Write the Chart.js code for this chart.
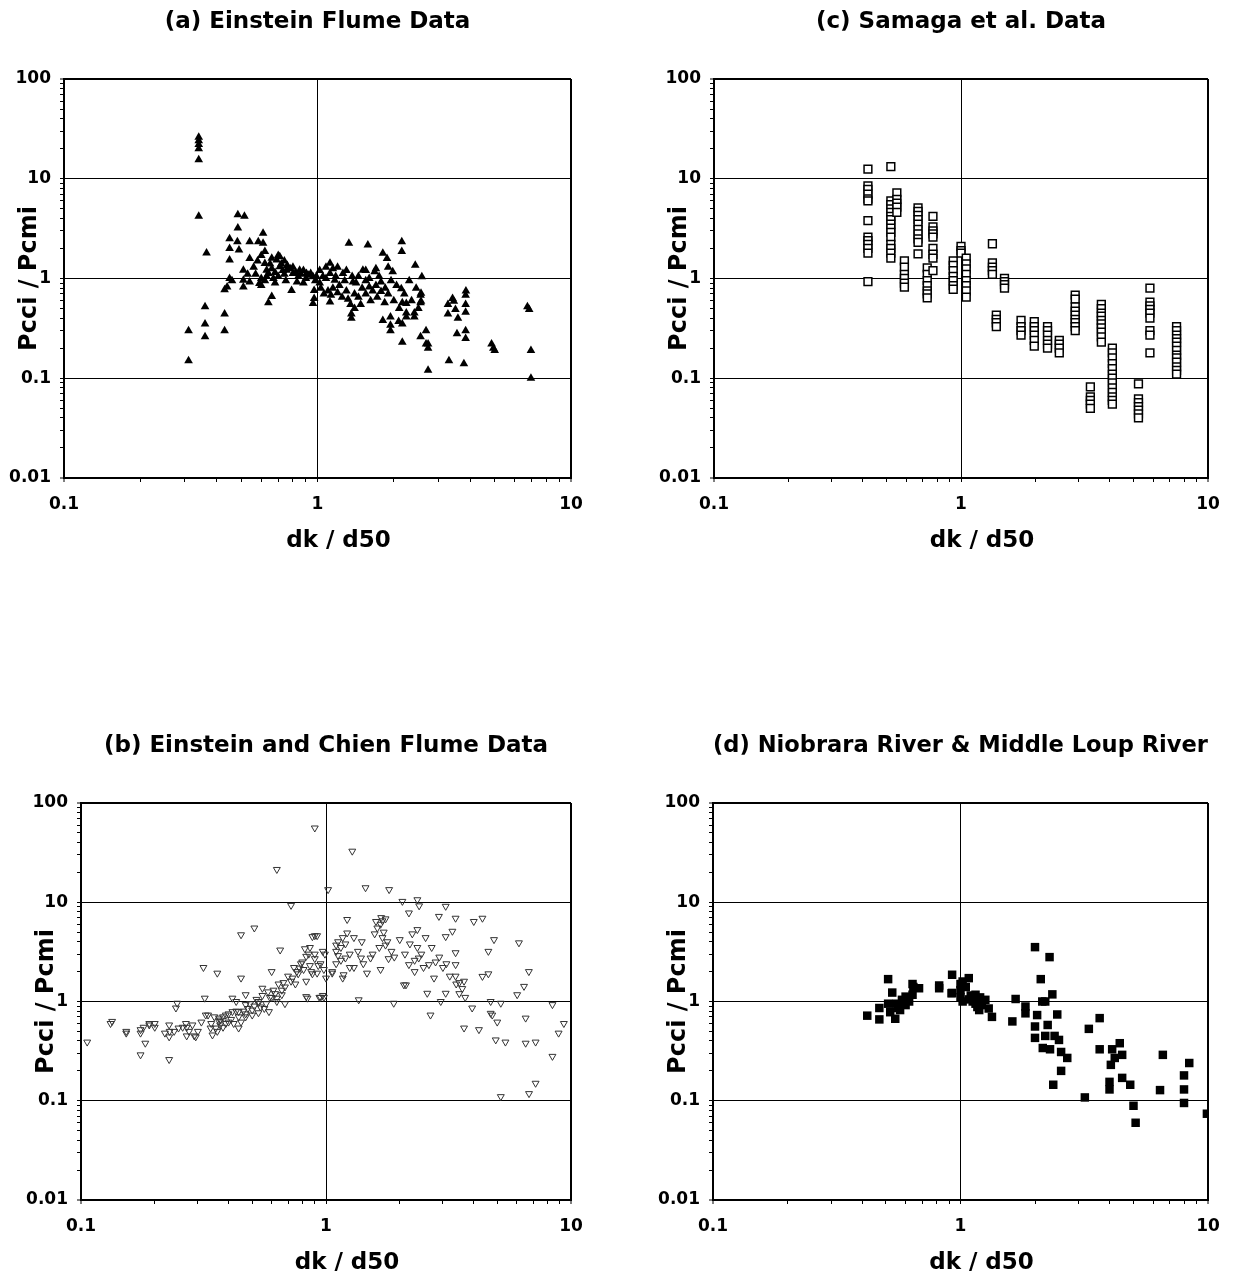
<!DOCTYPE html>
<html>
<head>
<meta charset="utf-8">
<script src="https://cdn.jsdelivr.net/npm/chart.js@4.4.1/dist/chart.umd.min.js"></script>
<style>
  body { margin: 0; background: #fff; width: 1235px; height: 1278px; position: relative; overflow: hidden; }
  .panel { position: absolute; }
  canvas { display: block; }
</style>
</head>
<body>
<div class="panel" id="boxA"><canvas id="chartA"></canvas></div>
<div class="panel" id="boxC"><canvas id="chartC"></canvas></div>
<div class="panel" id="boxB"><canvas id="chartB"></canvas></div>
<div class="panel" id="boxD"><canvas id="chartD"></canvas></div>
<script>
// axes communs : log-log, 0.1..10 en x et 0.01..100 en y
var xTickLabels = ['0.1', '1', '10'];
var yTickLabels = ['0.01', '0.1', '1', '10', '100'];
var minorSteps = [1, 2, 3, 4, 5, 6, 7, 8, 9];

// (a) Einstein Flume Data
var einsteinX = [
  0.31, 0.31, 0.34, 0.34, 0.34, 0.34, 0.34, 0.34, 0.365, 0.36,
  0.36, 0.36, 0.43, 0.43, 0.43, 0.44, 0.45, 0.45, 0.45, 0.45,
  0.46, 0.485, 0.515, 0.485, 0.483, 0.49, 0.51, 0.51, 0.51, 0.54,
  0.54, 0.54, 0.584, 0.59, 0.61, 0.61, 0.62, 0.62, 0.63, 0.64,
  0.64, 0.66, 0.67, 0.69, 0.71, 0.71, 0.755, 0.80, 0.79, 0.85,
  0.905, 0.96, 0.97, 0.97, 0.96, 0.56, 0.58, 0.6, 0.6, 0.65,
  0.66, 0.68, 0.7, 0.72, 0.73, 0.74, 0.76, 0.78, 0.8, 0.82,
  0.84, 0.86, 0.88, 0.9, 0.92, 0.94, 0.98, 0.99, 0.62, 0.57,
  0.53, 0.68, 0.75, 0.7, 0.66, 0.74, 0.6, 0.88, 0.63, 0.83,
  1.02, 1.05, 1.08, 1.12, 1.12, 1.17, 1.13, 1.26, 1.33, 1.38,
  1.36, 1.36, 1.48, 1.51, 1.58, 1.6, 1.68, 1.78, 1.78, 1.81,
  1.84, 1.81, 1.88, 1.94, 1.94, 1.94, 1.98, 2.09, 2.14, 2.15,
  2.15, 2.16, 2.16, 2.16, 2.24, 2.24, 2.24, 2.41, 2.41, 2.43,
  2.56, 2.56, 2.58, 2.55, 2.55, 2.55, 2.68, 2.68, 2.73, 2.73,
  2.73, 3.27, 3.27, 3.3, 3.41, 3.45, 3.5, 3.58, 3.55, 3.78,
  3.84, 3.85, 3.84, 3.84, 3.84, 3.84, 4.86, 4.94, 5.0, 6.84,
  6.73, 6.95, 6.95,
  1.03, 1.06, 1.1, 1.15, 1.18, 1.2, 1.22, 1.25, 1.28, 1.3,
  1.32, 1.35, 1.4, 1.42, 1.45, 1.45, 1.5, 1.55, 1.55, 1.6,
  1.62, 1.65, 1.7, 1.72, 1.75, 1.85, 1.9, 1.95, 2.0, 2.05,
  2.1, 2.2, 2.3, 2.35, 2.45, 2.5, 1.12, 1.4, 1.15, 1.2,
  1.3, 1.37, 1.55, 1.7, 1.9, 1.02, 1.08
];
var einsteinY = [
  0.30, 0.15, 26, 24, 22, 20, 15.5, 4.2, 1.8, 0.52,
  0.35, 0.26, 0.44, 0.30, 0.77, 0.82, 2.5, 2.0, 1.53, 1.0,
  0.95, 4.35, 4.2, 3.2, 2.34, 1.93, 1.21, 0.96, 0.82, 2.34,
  1.59, 0.92, 2.34, 0.89, 2.84, 2.25, 1.86, 1.41, 1.21, 1.12,
  0.57, 0.66, 1.0, 1.53, 1.65, 1.31, 1.21, 1.12, 0.76, 1.21,
  1.12, 1.04, 0.76, 0.63, 0.56, 1.3, 1.5, 1.0, 1.7, 1.4,
  1.25, 1.15, 1.05, 1.4, 1.2, 1.1, 1.35, 1.25, 1.3, 1.15,
  1.05, 1.1, 1.2, 1.0, 1.08, 1.12, 0.95, 1.05, 0.95, 1.1,
  1.1, 0.9, 0.95, 1.7, 1.6, 1.5, 0.85, 0.9, 1.05, 0.92,
  0.9, 1.05, 1.0, 1.42, 1.12, 0.96, 0.68, 1.12, 2.25, 0.92,
  0.44, 0.4, 0.55, 1.21, 2.17, 0.82, 1.17, 0.92, 0.74, 1.79,
  0.57, 0.38, 1.59, 0.41, 0.34, 0.30, 1.17, 0.37, 0.79, 2.34,
  1.86, 0.57, 0.35, 0.23, 0.56, 0.45, 0.41, 0.45, 0.41, 1.36,
  0.71, 0.59, 1.04, 0.68, 0.57, 0.26, 0.30, 0.22, 0.12, 0.20,
  0.22, 0.55, 0.44, 0.15, 0.63, 0.59, 0.49, 0.40, 0.28, 0.14,
  0.68, 0.75, 0.55, 0.46, 0.30, 0.25, 0.22, 0.2, 0.19, 0.49,
  0.52, 0.19, 0.1,
  0.8, 0.7, 0.75, 0.8, 1.05, 0.72, 0.85, 0.65, 0.95, 0.75,
  0.62, 0.55, 0.7, 0.9, 1.05, 0.65, 0.8, 0.7, 0.95, 1.0,
  0.6, 0.75, 0.85, 0.65, 1.05, 0.8, 0.7, 0.95, 0.6, 0.85,
  0.5, 0.7, 0.95, 0.6, 0.8, 0.5, 0.58, 0.5, 1.25, 1.3,
  1.2, 1.05, 1.2, 1.25, 1.3, 1.2, 1.3
];

// (c) Samaga et al. Data : une colonne de points par dk/d50
var samagaX = [0.42, 0.52, 0.55, 0.59, 0.67, 0.73, 0.77, 0.93, 1.0, 1.05,
               1.34, 1.5, 1.39, 1.75, 1.98, 2.24, 2.5, 2.9, 3.34, 3.7,
               4.1, 5.23, 5.82, 7.46];
var samagaY = [
  [12.5, 8.5, 7.8, 7, 6.3, 6, 3.8, 2.6, 2.4, 2.2, 2.0, 1.8, 0.93],
  [13.2, 6, 5.5, 5, 4.6, 4.2, 3.9, 3.5, 3.2, 2.9, 2.6, 2.2, 2.0, 1.8, 1.6],
  [7.2, 6.2, 5.7, 5.2, 4.6],
  [1.5, 1.3, 1.1, 1.0, 0.9, 0.82],
  [5.1, 4.7, 4.3, 3.9, 3.5, 3.1, 2.8, 2.5, 2.3, 1.77],
  [1.28, 1.1, 0.95, 0.85, 0.75, 0.7, 0.64],
  [4.2, 3.3, 3.0, 2.8, 2.6, 2.0, 1.75, 1.6, 1.2],
  [1.5, 1.35, 1.2, 1.05, 0.95, 0.85, 0.78],
  [2.1, 1.9, 1.8],
  [1.6, 1.4, 1.25, 1.1, 0.95, 0.85, 0.75, 0.65],
  [2.23, 1.43, 1.3, 1.2, 1.1],
  [1.0, 0.93, 0.87, 0.8],
  [0.43, 0.39, 0.36, 0.33],
  [0.38, 0.33, 0.3, 0.27],
  [0.37, 0.33, 0.3, 0.27, 0.24, 0.21],
  [0.33, 0.3, 0.27, 0.24, 0.22, 0.2],
  [0.24, 0.22, 0.2, 0.18],
  [0.68, 0.62, 0.52, 0.47, 0.43, 0.39, 0.36, 0.33, 0.3],
  [0.082, 0.065, 0.06, 0.055, 0.05],
  [0.55, 0.5, 0.45, 0.42, 0.38, 0.35, 0.32, 0.29, 0.26, 0.23],
  [0.2, 0.18, 0.16, 0.14, 0.125, 0.11, 0.1, 0.09, 0.08, 0.072, 0.065, 0.06, 0.055],
  [0.088, 0.062, 0.057, 0.052, 0.048, 0.044, 0.04],
  [0.8, 0.58, 0.53, 0.49, 0.45, 0.4, 0.3, 0.27, 0.18],
  [0.33, 0.3, 0.27, 0.25, 0.23, 0.21, 0.19, 0.17, 0.16, 0.145, 0.13, 0.12, 0.11]
];

// (b) Einstein and Chien Flume Data
var chienX = [
  0.106, 0.132, 0.134, 0.153, 0.153, 0.175, 0.175, 0.175, 0.183, 0.19,
  0.19, 0.229, 0.229, 0.229, 0.23, 0.25, 0.276, 0.294, 0.244, 0.247,
  0.268, 0.27, 0.26, 0.285, 0.3, 0.31, 0.323, 0.33, 0.316, 0.32,
  0.338, 0.344, 0.355, 0.366, 0.366, 0.36, 0.37, 0.38, 0.39, 0.40,
  0.415, 0.415, 0.43, 0.44, 0.44, 0.45, 0.45, 0.47, 0.47, 0.47,
  0.48, 0.5, 0.51, 0.51, 0.53, 0.53, 0.53, 0.55, 0.56, 0.585,
  0.6, 0.6, 0.62, 0.63, 0.63, 0.63, 0.65, 0.66, 0.68, 0.68,
  0.72, 0.73, 0.75, 0.76, 0.78, 0.8, 0.83, 0.83, 0.83, 0.84,
  0.85, 0.86, 0.88, 0.9, 0.9, 0.9, 0.92, 0.92, 0.94, 0.95,
  0.97, 1.0, 1.02, 1.06, 1.06, 1.1, 1.1, 1.1, 1.12, 1.15,
  1.17, 1.17, 1.18, 1.2, 1.22, 1.22, 1.25, 1.28, 1.3, 1.3,
  1.36, 1.39, 1.45, 1.47, 1.52, 1.6, 1.67, 1.67, 1.7, 1.75,
  1.72, 1.8, 1.81, 1.89, 2.05, 2.08, 2.12, 2.18, 2.18, 2.3,
  2.36, 2.36, 2.36, 2.39, 2.4, 2.55, 2.59, 2.63, 2.67, 2.76,
  2.89, 2.94, 3.08, 3.08, 3.08, 3.28, 3.38, 3.38, 3.38, 3.38,
  3.5, 3.6, 3.66, 3.66, 3.95, 4.01, 4.21, 4.35, 4.35, 4.6,
  4.6, 4.7, 4.7, 4.77, 4.85, 4.93, 5.0, 5.17, 5.17, 5.4,
  6.03, 6.13, 6.43, 6.53, 6.53, 6.73, 6.74, 7.17, 7.17, 8.4,
  8.4, 8.9, 9.35, 1.12, 1.15, 1.2, 1.25, 1.35, 1.4, 1.42,
  1.55, 1.58, 1.62, 1.65, 1.68, 1.7, 1.75, 1.78, 1.85, 1.9,
  2.0, 2.1, 2.2, 2.25, 2.3, 2.45, 2.5, 2.7, 2.8, 2.9,
  3.0, 3.1, 3.2, 3.4, 3.5, 3.7, 0.34, 0.35, 0.36, 0.37,
  0.38, 0.39, 0.4, 0.41, 0.42, 0.43, 0.44, 0.45, 0.46, 0.47,
  0.49, 0.5, 0.52, 0.54, 0.55, 0.57, 0.58, 0.59, 0.61, 0.64,
  0.66, 0.67, 0.7, 0.72, 0.74, 0.77, 0.79, 0.81, 0.82, 0.86,
  0.87, 0.88, 0.9, 0.93, 0.95, 0.97, 0.99, 0.98, 0.98, 0.29,
  0.27, 0.24, 0.22, 0.2, 0.18, 0.2
];
var chienY = [
  0.39, 0.60, 0.63, 0.48, 0.50, 0.48, 0.52, 0.29, 0.38, 0.58,
  0.6, 0.26, 0.58, 0.44, 0.5, 0.54, 0.5, 0.44, 0.86, 0.96,
  0.6, 0.45, 0.55, 0.58, 0.5, 0.62, 0.73, 0.73, 2.2, 1.08,
  0.54, 0.46, 0.54, 0.63, 0.68, 1.93, 0.58, 0.7, 0.73, 0.62,
  0.79, 1.08, 1.0, 0.54, 0.79, 4.7, 1.72, 0.93, 0.7, 1.17,
  0.85, 0.73, 5.5, 0.9, 1.0, 0.77, 0.96, 1.36, 0.85, 0.79,
  2.0, 1.1, 1.2, 21.4, 1.0, 1.08, 3.3, 1.17, 1.4, 0.95,
  9.3, 1.72, 1.5, 2.0, 2.17, 2.5, 2.85, 1.6, 1.12, 1.08,
  3.0, 2.3, 4.5, 4.6, 56, 2.7, 1.93, 4.6, 1.1, 2.4,
  3.2, 1.72, 13.4, 2.0, 1.93, 3.7, 2.4, 3.2, 4.0, 3.5,
  4.4, 1.72, 1.86, 2.74, 6.7, 4.9, 3.0, 32.7, 4.4, 2.2,
  1.04, 2.74, 14, 1.93, 2.74, 6.4, 6.0, 2.1, 4.4, 3.7,
  5.0, 2.7, 13.4, 0.96, 10.2, 1.47, 1.47, 7.8, 2.35, 2.0,
  10.6, 5.3, 3.5, 2.74, 9.2, 4.4, 1.21, 2.35, 0.73, 1.72,
  7.2, 1.0, 9.1, 4.5, 1.21, 5.1, 6.9, 3.1, 2.35, 1.8,
  1.55, 1.35, 1.6, 0.54, 0.86, 6.4, 0.52, 6.9, 1.79, 3.2,
  1.9, 1.0, 0.76, 0.73, 4.2, 0.41, 0.62, 0.96, 0.11, 0.39,
  1.17, 3.9, 1.42, 0.68, 0.38, 2.0, 0.118, 0.39, 0.15, 0.28,
  0.93, 0.48, 0.6, 2.9, 2.6, 3.8, 2.2, 3.2, 4.0, 2.4,
  3.0, 4.8, 5.5, 3.5, 7.0, 6.5, 6.8, 4.0, 3.2, 2.8,
  4.2, 3.0, 3.8, 4.8, 2.6, 3.0, 2.2, 3.5, 2.5, 2.8,
  2.2, 2.4, 1.8, 1.5, 1.2, 1.1, 0.6, 0.7, 0.5, 0.65,
  0.55, 0.6, 0.75, 0.66, 0.6, 0.8, 0.7, 0.62, 0.8, 0.75,
  0.95, 0.82, 1.05, 0.88, 1.15, 0.95, 1.25, 1.1, 1.3, 1.5,
  1.3, 1.55, 1.8, 1.6, 2.2, 1.9, 2.4, 2.1, 3.4, 3.5,
  2.0, 1.9, 3.0, 2.3, 1.1, 1.15, 3.0, 2.1, 1.1, 0.45,
  0.55, 0.5, 0.48, 0.55, 0.55, 0.6
];

// (d) Niobrara River & Middle Loup River
var niobraraX = [
  0.42, 0.47, 0.47, 0.51, 0.53, 0.51, 0.52, 0.545, 0.56, 0.58,
  0.6, 0.64, 0.64, 0.68, 0.645, 0.55, 0.57, 0.6, 0.62, 0.82,
  0.82, 0.925, 0.925, 1.02, 1.08, 1.02, 1.08, 1.15, 1.17, 1.26,
  1.34, 0.92, 1.0, 1.0, 1.0, 1.05, 1.1, 1.12, 1.15, 1.19,
  1.2, 1.22, 1.3, 1.62, 1.67, 1.83, 1.83, 2.0, 2.29, 2.11,
  2.35, 2.14, 2.2, 2.04, 2.46, 2.0, 2.25, 2.0, 2.2, 2.4,
  2.5, 2.15, 2.3, 2.55, 2.7, 2.55, 2.37, 3.18, 3.3, 3.65,
  3.65, 4.1, 4.4, 4.5, 4.2, 4.05, 4.0, 4.0, 4.5, 4.85,
  5.0, 5.1, 6.57, 6.4, 8.0, 8.0, 8.0, 8.4, 9.9
];
var niobraraY = [
  0.72, 0.86, 0.66, 1.68, 1.23, 0.95, 0.78, 0.67, 0.86, 1.04,
  1.12, 1.17, 1.5, 1.36, 1.4, 0.95, 0.82, 0.92, 1.0, 1.36,
  1.45, 1.86, 1.22, 1.59, 1.72, 1.0, 1.05, 1.17, 0.88, 1.04,
  0.70, 1.21, 1.5, 1.3, 1.1, 1.4, 1.15, 1.0, 0.95, 0.82,
  1.1, 0.92, 0.85, 0.63, 1.06, 0.89, 0.76, 3.53, 2.8, 1.68,
  1.18, 1.0, 1.0, 0.73, 0.74, 0.56, 0.58, 0.43, 0.45, 0.45,
  0.41, 0.34, 0.33, 0.31, 0.27, 0.2, 0.145, 0.108, 0.53, 0.68,
  0.33, 0.33, 0.38, 0.29, 0.27, 0.23, 0.155, 0.13, 0.17, 0.145,
  0.089, 0.06, 0.29, 0.128, 0.18, 0.13, 0.095, 0.24, 0.074
];

var FONT = "'DejaVu Sans', sans-serif";
var AXIS_W = 64, TOP_H = 79, BOTTOM_H = 87, RIGHT_PAD = 40;

function toPoints(xs, ys) {
  var pts = [];
  for (var i = 0; i < xs.length; i++) pts.push({ x: xs[i], y: ys[i] });
  return pts;
}

function columnPoints(xs, cols) {
  var pts = [];
  for (var i = 0; i < xs.length; i++) {
    for (var j = 0; j < cols[i].length; j++) pts.push({ x: xs[i], y: cols[i][j] });
  }
  return pts;
}

// graduations 1..9 par décade, seule la décade porte un libellé
function buildLogTicks(labels) {
  var ticks = [];
  for (var i = 0; i < labels.length - 1; i++) {
    var decade = parseFloat(labels[i]);
    for (var k = 0; k < minorSteps.length; k++) ticks.push({ value: decade * minorSteps[k] });
  }
  ticks.push({ value: parseFloat(labels[labels.length - 1]) });
  return ticks;
}

// le titre de l'axe x est un peu décalé à droite dans l'original
var xTitlePlugin = {
  id: 'xTitle',
  afterDraw: function (chart, args, opts) {
    var ctx = chart.ctx;
    var area = chart.chartArea;
    ctx.save();
    ctx.font = 'bold 23px ' + FONT;
    ctx.fillStyle = '#000';
    ctx.textAlign = 'center';
    ctx.textBaseline = 'middle';
    ctx.fillText(opts.text, (area.left + area.right) / 2 + opts.shift, area.bottom + 63);
    ctx.restore();
  }
};

function axisOptions(labels, horizontal, titleText) {
  var n = minorSteps.length;
  var last = (labels.length - 1) * n;
  return {
    type: 'logarithmic',
    min: parseFloat(labels[0]),
    max: parseFloat(labels[labels.length - 1]),
    afterBuildTicks: function (scale) { scale.ticks = buildLogTicks(labels); },
    afterFit: function (scale) {
      if (horizontal) scale.height = BOTTOM_H; else scale.width = AXIS_W;
    },
    ticks: {
      autoSkip: false,
      maxRotation: 0,
      minRotation: 0,
      padding: horizontal ? 12 : 9,
      color: '#000',
      font: { family: FONT, size: 17, weight: 'bold' },
      callback: function (value, index) {
        return index % n === 0 ? labels[index / n] : '';
      }
    },
    grid: {
      color: function (c) { return c.index % n === 0 ? '#000' : 'rgba(0,0,0,0)'; },
      lineWidth: function (c) { return (c.index === 0 || c.index === last) ? 2 : 1; },
      tickColor: '#000',
      tickWidth: 1,
      tickLength: 4
    },
    border: { display: true, color: '#000', width: 2 },
    title: {
      display: !horizontal,
      text: titleText,
      color: '#000',
      font: { family: FONT, size: 24, weight: 'bold' },
      padding: { top: 15, bottom: 0 }
    }
  };
}

function makePanel(id, left, top, plotW, plotH, titleText, dataset) {
  var canvas = document.getElementById(id);
  canvas.width = AXIS_W + plotW + RIGHT_PAD;
  canvas.height = TOP_H + plotH + BOTTOM_H;
  canvas.parentNode.style.left = left + 'px';
  canvas.parentNode.style.top = top + 'px';
  var ctx = canvas.getContext('2d');
  return new Chart(ctx, {
    type: 'scatter',
    data: { datasets: [dataset] },
    plugins: [xTitlePlugin],
    options: {
      responsive: false,
      animation: false,
      devicePixelRatio: 1,
      layout: { padding: { left: 0, right: RIGHT_PAD, top: 0, bottom: 0 } },
      plugins: {
        legend: { display: false },
        tooltip: { enabled: false },
        title: {
          display: true,
          text: titleText,
          fullSize: false,
          color: '#000',
          font: { family: FONT, size: 23, weight: 'bold', lineHeight: 1.2 },
          padding: { top: 8, bottom: TOP_H - 8 - 23 * 1.2 }
        },
        xTitle: { text: 'dk / d50', shift: 21 }
      },
      scales: {
        x: axisOptions(xTickLabels, true, 'dk / d50'),
        y: axisOptions(yTickLabels, false, 'Pcci / Pcmi')
      }
    }
  });
}

makePanel('chartA', 0, 0, 507, 399, '(a) Einstein Flume Data', {
  data: toPoints(einsteinX, einsteinY),
  pointStyle: 'triangle',
  pointRadius: 5,
  pointBackgroundColor: '#000',
  pointBorderColor: '#000',
  pointBorderWidth: 0
});

makePanel('chartC', 650, 0, 494, 399, '(c) Samaga et al. Data', {
  data: columnPoints(samagaX, samagaY),
  pointStyle: 'rect',
  pointRadius: 5.5,
  pointBackgroundColor: '#fff',
  pointBorderColor: '#000',
  pointBorderWidth: 1.5
});

makePanel('chartB', 17, 724, 490, 397, '(b) Einstein and Chien Flume Data', {
  data: toPoints(chienX, chienY),
  pointStyle: 'triangle',
  pointRotation: 180,
  pointRadius: 4,
  pointBackgroundColor: 'rgba(255,255,255,0)',
  pointBorderColor: '#333',
  pointBorderWidth: 1
});

makePanel('chartD', 649, 724, 495, 397, '(d) Niobrara River & Middle Loup River', {
  data: toPoints(niobraraX, niobraraY),
  pointStyle: 'rect',
  pointRadius: 6,
  pointBackgroundColor: '#000',
  pointBorderColor: '#000',
  pointBorderWidth: 0
});
</script>
</body>
</html>
